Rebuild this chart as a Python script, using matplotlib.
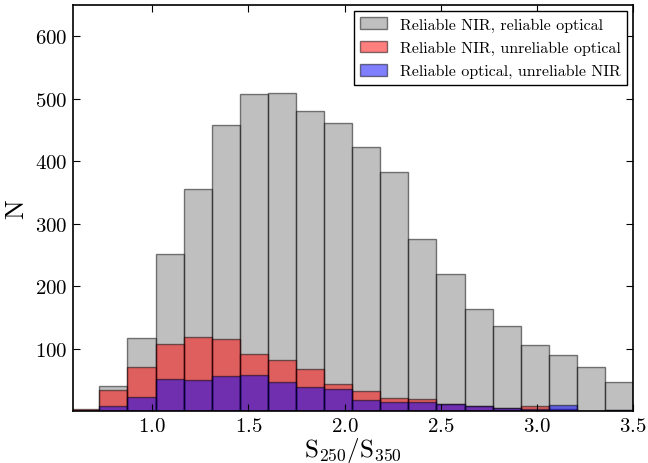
import matplotlib
matplotlib.use("Agg")
import matplotlib.pyplot as plt
import numpy as np

# histogram bin edges (20 bins) and counts per sample
bin_edges = np.linspace(0.58, 3.5, 21)
nir_opt = [2, 40, 117, 252, 356, 458, 508, 509, 481, 461,
           422, 382, 275, 219, 164, 136, 105, 90, 70, 47]
nir_unrel_opt = [3, 33, 71, 108, 118, 116, 91, 82, 68, 44,
                 32, 21, 20, 11, 8, 5, 8, 3, 0, 1]
opt_unrel_nir = [0, 8, 22, 51, 49, 56, 58, 47, 39, 35,
                 18, 14, 14, 11, 8, 5, 4, 9, 0, 1]
labels = ['Reliable NIR, reliable optical',
          'Reliable NIR, unreliable optical',
          'Reliable optical, unreliable NIR']

plt.rcParams['font.family'] = ['cmr10', 'DejaVu Serif']
plt.rcParams['mathtext.fontset'] = 'cm'
plt.rcParams['axes.formatter.use_mathtext'] = True

fig = plt.figure(figsize=(6.48, 4.64), dpi=100)
ax = fig.add_axes([0.113, 0.112, 0.864, 0.875])

widths = np.diff(bin_edges)
for counts, col, lab in zip([nir_opt, nir_unrel_opt, opt_unrel_nir],
                            ['gray', 'red', 'blue'], labels):
    ax.bar(bin_edges[:-1], counts, width=widths, align='edge', color=col,
           edgecolor='k', linewidth=1.0, alpha=0.5, label=lab)

ax.set_xlim(0.59, 3.5)
ax.set_ylim(0, 650)
ax.set_xticks([1.0, 1.5, 2.0, 2.5, 3.0, 3.5])
ax.set_yticks([100, 200, 300, 400, 500, 600])
ax.tick_params(direction='in', top=True, right=True, length=5, width=0.8,
               labelsize=15, pad=4)
for s in ax.spines.values():
    s.set_linewidth(1.2)

ax.set_xlabel(r'$\mathrm{S_{250}/S_{350}}$', fontsize=18, labelpad=0)
ax.set_ylabel('N', fontsize=19, labelpad=5)

leg = ax.legend(loc='upper right', fontsize=11.5, fancybox=False,
                edgecolor='k', framealpha=1, borderaxespad=0.38,
                handlelength=1.7, handleheight=0.75, handletextpad=0.8,
                labelspacing=0.55, borderpad=0.4)
leg.get_frame().set_linewidth(1.0)

fig.savefig('out.png', dpi=100)
